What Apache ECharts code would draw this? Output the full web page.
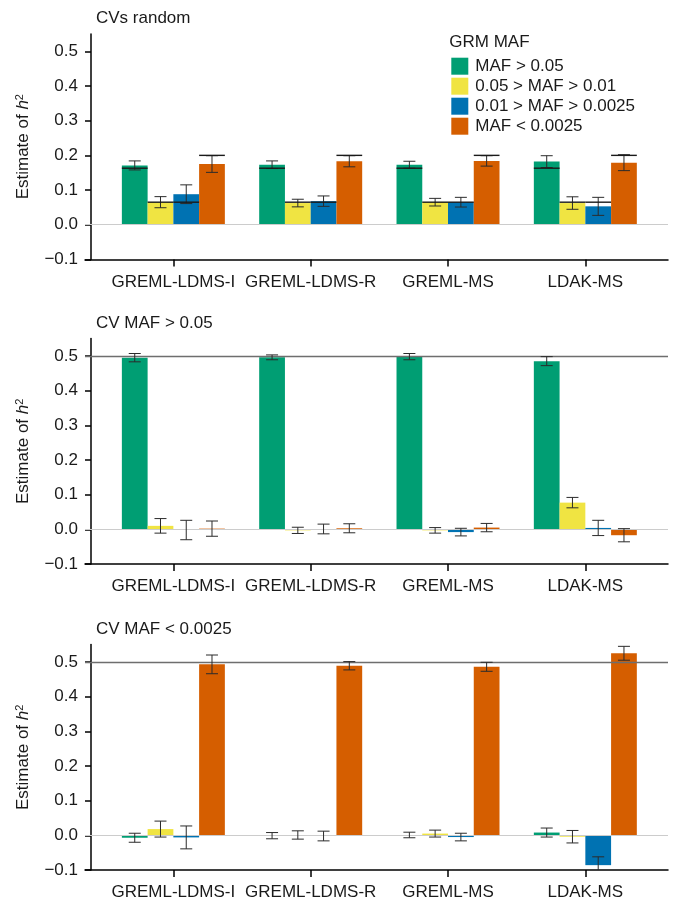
<!DOCTYPE html>
<html><head><meta charset="utf-8">
<script src="https://cdn.jsdelivr.net/npm/echarts@6/dist/echarts.min.js"></script>
<style>html,body{margin:0;padding:0;background:#fff}#c{width:676px;height:902px}</style>
</head><body><div id="c"></div>
<script>
// ---------------- data ----------------
const categories = ['GREML-LDMS-I', 'GREML-LDMS-R', 'GREML-MS', 'LDAK-MS'];
const seriesNames = ['MAF > 0.05', '0.05 > MAF > 0.01', '0.01 > MAF > 0.0025', 'MAF < 0.0025'];
const panelTitles = ['CVs random', 'CV MAF > 0.05', 'CV MAF < 0.0025'];
const yTicks = [-0.1, 0, 0.1, 0.2, 0.3, 0.4, 0.5];
const legendTitle = 'GRM MAF';

// Panel 1: CVs random  (estimates and half-widths of error bars)
const p1Est0 = [0.171, 0.173, 0.173, 0.182];
const p1Est1 = [0.065, 0.0625, 0.065, 0.0625];
const p1Est2 = [0.088, 0.068, 0.065, 0.053];
const p1Est3 = [0.175, 0.183, 0.184, 0.179];
const p1Err0 = [0.013, 0.011, 0.010, 0.017];
const p1Err1 = [0.016, 0.011, 0.011, 0.018];
const p1Err2 = [0.027, 0.015, 0.014, 0.026];
const p1Err3 = [0.024, 0.016, 0.015, 0.023];
const p1True = [0.163, 0.065, 0.065, 0.2];   // true h2 per GRM MAF bin

// Panel 2: CV MAF > 0.05
const p2Est0 = [0.495, 0.496, 0.498, 0.485];
const p2Est1 = [0.010, -0.003, -0.003, 0.077];
const p2Est2 = [-0.002, 0.001, -0.008, 0.004];
const p2Est3 = [0.002, 0.003, 0.005, -0.017];
const p2Err0 = [0.012, 0.007, 0.009, 0.013];
const p2Err1 = [0.021, 0.009, 0.008, 0.015];
const p2Err2 = [0.028, 0.014, 0.011, 0.022];
const p2Err3 = [0.022, 0.013, 0.012, 0.019];

// Panel 3: CV MAF < 0.0025
const p3Est0 = [-0.007, -0.001, 0.001, 0.008];
const p3Est1 = [0.018, 0.001, 0.005, -0.004];
const p3Est2 = [-0.006, -0.002, -0.005, -0.086];
const p3Est3 = [0.493, 0.489, 0.486, 0.525];
const p3Err0 = [0.013, 0.009, 0.008, 0.013];
const p3Err1 = [0.023, 0.012, 0.010, 0.018];
const p3Err2 = [0.033, 0.014, 0.011, 0.024];
const p3Err3 = [0.027, 0.012, 0.013, 0.020];

const totalH2 = 0.5;   // simulated total heritability (reference line in panels 2 and 3)

// ---------------- style / layout ----------------
const colors = ['#009E73', '#F0E442', '#0072B2', '#D55E00'];
const FONT = '"Liberation Sans", Arial, Helvetica, sans-serif';
const TXT = '#1a1a1a';
const Y_MIN = -0.1, Y_MAX = 0.55;
const TOPS = [34, 338.6, 644.6], H = 225.4;
const BAR_FRAC = 0.75;

const panels = [
  { est: [p1Est0, p1Est1, p1Est2, p1Est3], err: [p1Err0, p1Err1, p1Err2, p1Err3], truth: p1True, ref: null },
  { est: [p2Est0, p2Est1, p2Est2, p2Est3], err: [p2Err0, p2Err1, p2Err2, p2Err3], truth: null, ref: totalH2 },
  { est: [p3Est0, p3Est1, p3Est2, p3Est3], err: [p3Err0, p3Err1, p3Err2, p3Err3], truth: null, ref: totalH2 }
];

function fmt(v) {
  const s = Number(v).toFixed(1);
  return s.replace('-', '\u2212');
}

function renderErr(params, api) {
  const cat = api.value(0), s = api.value(1), est = api.value(2), e = api.value(3), tv = api.value(4);
  const band = api.size([1, 0])[0];
  const bw = band * BAR_FRAC / 4;
  const cx = api.coord([cat, 0])[0] + (s - 1.5) * bw;
  const loV = est - e, hiV = est + e;
  const yLo = api.coord([cat, Math.max(loV, Y_MIN)])[1];
  const yHi = api.coord([cat, hiV])[1];
  const cap = 6;
  const st = { stroke: '#2b2b2b', lineWidth: 1 };
  const ch = [
    { type: 'line', shape: { x1: cx, y1: yLo, x2: cx, y2: yHi }, style: st },
    { type: 'line', shape: { x1: cx - cap, y1: yHi, x2: cx + cap, y2: yHi }, style: st }
  ];
  if (loV >= Y_MIN) ch.push({ type: 'line', shape: { x1: cx - cap, y1: yLo, x2: cx + cap, y2: yLo }, style: st });
  if (tv != null && !isNaN(tv)) {
    const yt = api.coord([cat, tv])[1];
    ch.push({ type: 'line', shape: { x1: cx - bw / 2, y1: yt, x2: cx + bw / 2, y2: yt }, style: { stroke: '#1a1a1a', lineWidth: 1.4 } });
  }
  return { type: 'group', children: ch };
}

const grid = [], xAxis = [], yAxis = [], series = [], title = [];
panels.forEach((p, i) => {
  grid.push({ left: 104.7, width: 549.3, top: TOPS[i], height: H });
  grid.push({ left: 85, width: 583, top: TOPS[i], height: H });
  xAxis.push({
    gridIndex: 2 * i, type: 'category', data: categories, boundaryGap: true, position: 'bottom',
    axisLine: { show: false, onZero: false },
    axisTick: { show: true, alignWithLabel: true, length: 7, lineStyle: { color: '#000', width: 1.5 } },
    axisLabel: { margin: 14, fontSize: 17, color: TXT, fontFamily: FONT, interval: 0 },
    splitLine: { show: false }
  });
  xAxis.push({
    gridIndex: 2 * i + 1, type: 'value', min: 0, max: 1, position: 'bottom',
    axisLine: { show: true, onZero: false, lineStyle: { color: '#000', width: 1.5 } },
    axisTick: { show: false }, axisLabel: { show: false }, splitLine: { show: false }
  });
  yAxis.push({
    gridIndex: 2 * i, type: 'value', min: Y_MIN, max: Y_MAX, offset: 13.7,
    axisLine: { show: true, lineStyle: { color: '#000', width: 1.5 } },
    axisTick: { show: true, length: 6, customValues: yTicks, lineStyle: { color: '#000', width: 1.5 } },
    axisLabel: { customValues: yTicks, formatter: fmt, margin: 13, fontSize: 17, color: TXT, fontFamily: FONT },
    splitLine: { show: false },
    name: '{a|Estimate of }{i|h}{s|2}', nameLocation: 'middle', nameGap: 59, nameRotate: 90,
    nameTextStyle: {
      color: TXT, fontFamily: FONT, fontSize: 17,
      rich: {
        a: { fontSize: 17, fontFamily: FONT, color: TXT },
        i: { fontSize: 17, fontFamily: FONT, color: TXT, fontStyle: 'italic' },
        s: { fontSize: 11, fontFamily: FONT, color: TXT, verticalAlign: 'top', padding: [0, 0, 7, 0] }
      }
    }
  });
  yAxis.push({ gridIndex: 2 * i + 1, type: 'value', min: Y_MIN, max: Y_MAX, show: false });

  // reference lines (zero line, and true h2 line)
  const ml = [{ yAxis: 0, lineStyle: { color: '#cccccc', width: 1.2, type: 'solid' } }];
  if (p.ref != null) ml.push({ yAxis: p.ref, lineStyle: { color: '#6e6e6e', width: 1.4, type: 'solid' } });
  series.push({
    type: 'line', xAxisIndex: 2 * i + 1, yAxisIndex: 2 * i + 1, data: [], z: 0, silent: true,
    markLine: { symbol: 'none', silent: true, label: { show: false }, data: ml, animation: false }
  });

  p.est.forEach((vals, s) => {
    series.push({
      type: 'bar', name: seriesNames[s], xAxisIndex: 2 * i, yAxisIndex: 2 * i,
      data: vals, barGap: '0%', barCategoryGap: '25%', silent: true, z: 2,
      itemStyle: { color: colors[s] }
    });
  });

  const ed = [];
  categories.forEach((c, ci) => {
    for (let s = 0; s < 4; s++) {
      ed.push([ci, s, p.est[s][ci], p.err[s][ci], p.truth ? p.truth[s] : null]);
    }
  });
  series.push({
    type: 'custom', xAxisIndex: 2 * i, yAxisIndex: 2 * i, data: ed, renderItem: renderErr,
    encode: { x: 0, y: 2 }, z: 5, silent: true
  });

  title.push({
    text: panelTitles[i], left: 96, top: [9.3, 314.3, 620.3][i], padding: 0,
    textStyle: { fontSize: 17, fontWeight: 'normal', color: TXT, fontFamily: FONT, lineHeight: 18 }
  });
});
title.push({
  text: legendTitle, left: 449.3, top: 33.7, padding: 0,
  textStyle: { fontSize: 17, fontWeight: 'normal', color: TXT, fontFamily: FONT, lineHeight: 18 }
});

const chart = echarts.init(document.getElementById('c'), null, { renderer: 'canvas' });
chart.setOption({
  animation: false,
  backgroundColor: '#fff',
  title,
  legend: {
    orient: 'vertical', left: 451.3, top: 57.7, padding: 0, itemWidth: 17, itemHeight: 17, itemGap: 3,
    icon: 'rect', selectedMode: false, data: seriesNames,
    textStyle: { fontSize: 17, color: TXT, fontFamily: FONT, padding: [0, 0, 0, 2] }
  },
  grid, xAxis, yAxis, series
});
</script></body></html>
